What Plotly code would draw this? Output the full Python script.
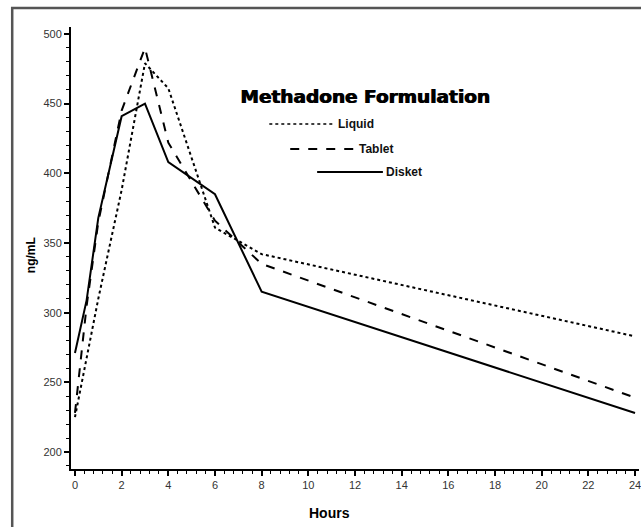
import plotly.graph_objects as go

hours = [0, 0.5, 1, 2, 3, 4, 6, 8, 24]
liquid = [225, 267, 310, 388, 479, 461, 361, 342, 283]
tablet = [228, 305, 365, 445, 490, 422, 366, 335, 239]
disket = [271, 309, 368, 441, 450, 408, 385, 315, 228]

series_names = ["Liquid", "Tablet", "Disket"]
series_dash = ["dot", "dash", "solid"]
x_ticks = list(range(0, 25, 2))
y_ticks = [200, 250, 300, 350, 400, 450, 500]

W, H = 641, 527
L, R, T, B = 71, 0, 27, 58
pw, ph = W - L - R, H - T - B

def px(x):
    return (x - L) / pw

def py(y):
    return (H - B - y) / ph

fig = go.Figure()
for name, vals, dash in zip(series_names, [liquid, tablet, disket], series_dash):
    fig.add_trace(go.Scatter(x=hours, y=vals, mode="lines", name=name,
                             line=dict(color="black", width=2, dash=dash),
                             showlegend=False, hoverinfo="skip"))

shapes = []
# outer frame
shapes.append(dict(type="rect", xref="paper", yref="paper",
                   x0=px(12), x1=px(700), y0=py(8), y1=py(600),
                   line=dict(color="#555", width=2.5), fillcolor="rgba(0,0,0,0)", layer="below"))

annotations = []
annotations.append(dict(text="<b>Methadone Formulation</b>", xref="paper", yref="paper",
                        x=px(366), y=py(96), showarrow=False, xanchor="center", yanchor="middle",
                        font=dict(family="DejaVu Sans", size=18.5, color="black",
                                  shadow="1px 0px 0px #000")))
leg = [("Liquid", 270, 336, 124, "dot"), ("Tablet", 291, 357, 149, "dash"), ("Disket", 318, 384, 172, "solid")]
for name, x0, x1, y, dash in leg:
    shapes.append(dict(type="line", xref="paper", yref="paper", x0=px(x0), x1=px(x1),
                       y0=py(y), y1=py(y), line=dict(color="black", width=2 if dash != "dot" else 1.5, dash=dash)))
    annotations.append(dict(text="<b>" + name + "</b>", xref="paper", yref="paper",
                            x=px(x1 + 1), y=py(y), showarrow=False, xanchor="left", yanchor="middle",
                            font=dict(family="Liberation Sans", size=12, color="#111")))
annotations.append(dict(text="<b>Hours</b>", xref="paper", yref="paper", x=px(330), y=py(513),
                        showarrow=False, xanchor="center", yanchor="middle",
                        font=dict(family="Liberation Sans", size=14, color="black")))
annotations.append(dict(text="<b>ng/mL</b>", xref="paper", yref="paper", x=px(31), y=py(255),
                        showarrow=False, xanchor="center", yanchor="middle", textangle=-90,
                        font=dict(family="Liberation Sans", size=12, color="black")))

fig.update_layout(
    width=W, height=H,
    margin=dict(l=L, r=R, t=T, b=B),
    paper_bgcolor="white", plot_bgcolor="white",
    shapes=shapes, annotations=annotations,
    xaxis=dict(range=[-0.17, 24.17], tickmode="array", tickvals=x_ticks,
               ticktext=[str(v) for v in x_ticks], ticklabeloverflow="allow",
               showline=True, linecolor="black", linewidth=2, ticks="outside",
               ticklen=5, tickwidth=1.5, tickcolor="black", showgrid=False, zeroline=False,
               minor=dict(dtick=0.4, tick0=0, ticks="outside", ticklen=3, tickcolor="black", tickwidth=1),
               tickfont=dict(family="Liberation Sans", size=11, color="#333")),
    yaxis=dict(range=[187.8, 505], tickmode="array", tickvals=y_ticks,
               ticktext=[str(v) for v in y_ticks],
               showline=True, linecolor="black", linewidth=2, ticks="outside",
               ticklen=5, tickwidth=1.5, tickcolor="black", showgrid=False, zeroline=False,
               minor=dict(dtick=10, tick0=0, ticks="outside", ticklen=3, tickcolor="black", tickwidth=1),
               tickfont=dict(family="Liberation Sans", size=11, color="#333")),
)

fig.write_html("out.html", config={"displayModeBar": False},
               post_script="document.body.style.margin='0';document.body.style.overflow='hidden';")
